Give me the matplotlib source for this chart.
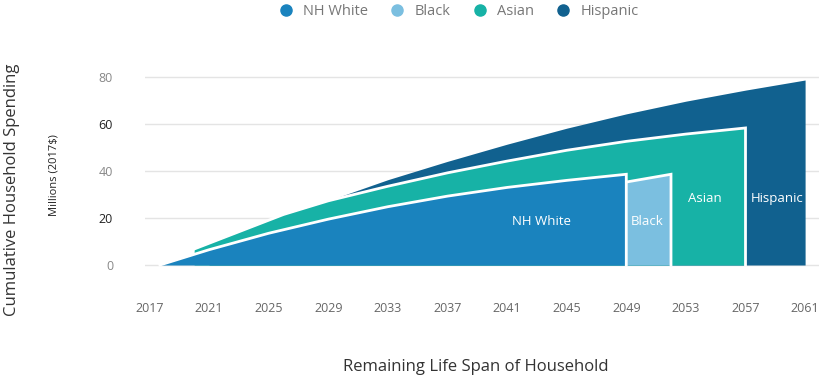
import matplotlib.pyplot as plt
from matplotlib.lines import Line2D

plt.rcParams['font.family'] = ['Open Sans', 'DejaVu Sans']

# series (millions, 2017$)
hisp_years = [2021, 2025, 2029, 2033, 2037, 2041, 2045, 2049, 2053, 2057, 2061]
hisp_vals = [7, 17, 27.4, 36.3, 44.1, 51.4, 58.2, 64.3, 69.7, 74.4, 78.7]

asian_years = [2020, 2026, 2029, 2033, 2037, 2041, 2045, 2049, 2053, 2057]
asian_vals = [6.8, 21.5, 27.3, 33.5, 39.2, 44.2, 48.8, 52.6, 55.7, 58.3]

black_years = [2049, 2052]
black_vals = [35.3, 38.6]

white_years = [2017.7, 2021, 2025, 2029, 2033, 2037, 2041, 2045, 2049]
white_vals = [0, 6.5, 13.5, 19.5, 24.8, 29.3, 33, 36, 38.6]

series_names = ['NH White', 'Black', 'Asian', 'Hispanic']
colors = ['#1a83be', '#7bbfe0', '#17b2a6', '#11618f']
x_ticks = list(range(2017, 2062, 4))
y_ticks = [0, 20, 40, 60, 80]

fig = plt.figure(figsize=(8.2, 3.77), dpi=100)
ax = fig.add_axes([145 / 820, 1 - 269.7 / 377, 675 / 820, 209.2 / 377])


def area(xs, ys, color, z, outline=True):
    ax.fill_between(xs, 0, ys, color=color, lw=0, zorder=z)
    if outline:
        # white rim along the top and down the right edge
        ax.plot(list(xs) + [xs[-1]], list(ys) + [0], color='white', lw=2,
                solid_joinstyle='miter', zorder=z + 0.5)


area(hisp_years, hisp_vals, colors[3], 2, outline=False)
area(asian_years, asian_vals, colors[2], 3)
area(black_years, black_vals, colors[1], 4)
area(white_years, white_vals, colors[0], 5)

# labels inside areas
lab_kw = dict(color='white', fontsize=9.5, ha='center', va='center', zorder=7)
ax.text(2043.3, 18.3, 'NH White', **lab_kw)
ax.text(2050.4, 18.3, 'Black', **lab_kw)
ax.text(2054.3, 28.1, 'Asian', **lab_kw)
ax.text(2059.1, 28.1, 'Hispanic', **lab_kw)

ax.set_xlim(2016.7, 2062)
ax.set_ylim(-2, 87)
ax.set_xticks(x_ticks)
ax.set_yticks(y_ticks)
ax.tick_params(axis='both', length=0, labelsize=9)
ax.tick_params(axis='x', pad=23, colors='#666666')
ax.tick_params(axis='y', pad=23)
for lbl, c in zip(ax.get_yticklabels(), ['#888888', '#222222', '#888888', '#222222', '#888888']):
    lbl.set_color(c)
ax.grid(axis='y', color='#e4e4e4', lw=1, zorder=0)
ax.set_axisbelow(True)
for s in ax.spines.values():
    s.set_visible(False)

fig.text(12 / 820, 1 - 190 / 377, 'Cumulative Household Spending', rotation=90,
         ha='center', va='center', fontsize=12, color='#333333')
fig.text(54 / 820, 1 - 175 / 377, 'Millions (2017$)', rotation=90,
         ha='center', va='center', fontsize=8, color='#222222')
fig.text(476 / 820, 1 - 367 / 377, 'Remaining Life Span of Household',
         ha='center', va='center', fontsize=12, color='#333333')

handles = [Line2D([], [], marker='o', ls='', color=c, markersize=8) for c in colors]
fig.legend(handles, series_names, loc='upper center', bbox_to_anchor=(455 / 820, 1.025),
           ncol=4, frameon=False, fontsize=10.5, labelcolor='#777777',
           handletextpad=0.2, columnspacing=1.0)

fig.savefig('out.png', dpi=100)
